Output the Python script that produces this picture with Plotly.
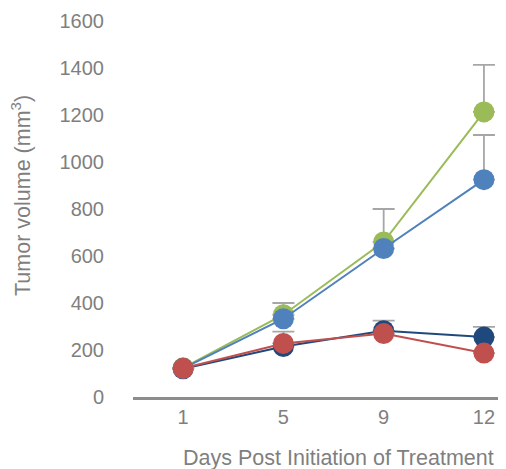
import plotly.graph_objects as go

days = ["1", "5", "9", "12"]
x_pos = [0, 1, 2, 3]

series_names = ["Dark blue", "Green", "Blue", "Red"]
dark_blue = [120, 215, 282, 255]
red = [122, 228, 270, 187]
green = [124, 350, 660, 1213]
blue = [122, 333, 632, 925]

dark_blue_err = [0, 0, 43, 43]
red_err = [0, 50, 0, 0]
green_err = [0, 50, 140, 200]
blue_err = [0, 0, 0, 190]

colors = {"Dark blue": "#1F497D", "Red": "#C0504D", "Green": "#9BBB59", "Blue": "#4F81BD"}
values = {"Dark blue": dark_blue, "Red": red, "Green": green, "Blue": blue}
errs = {"Dark blue": dark_blue_err, "Red": red_err, "Green": green_err, "Blue": blue_err}

fig = go.Figure()
for name in series_names:
    fig.add_trace(go.Scatter(
        x=x_pos, y=values[name], mode="lines+markers", name=name,
        line=dict(color=colors[name], width=2),
        marker=dict(color=colors[name], size=21),
        error_y=dict(type="data", array=errs[name], symmetric=False,
                     arrayminus=[0]*4, color="#A6A6A6", thickness=1.8, width=11),
        showlegend=False,
    ))

# page body has an 8px margin; compensate so the plot lands where the reference has it
OFF = 8
L, T, PW, PH = 133, 21, 373, 376

font_fam = "Liberation Sans, Arial, sans-serif"
fig.update_layout(
    width=506 - OFF, height=469 - OFF,
    margin=dict(l=L - OFF, r=0, t=T - OFF, b=469 - T - PH, autoexpand=False),
    paper_bgcolor="white", plot_bgcolor="white",
    font=dict(family=font_fam, color="#7F7F7F", size=20),
    xaxis=dict(
        range=[-0.5, 3.22], tickvals=x_pos, ticktext=days,
        showgrid=False, zeroline=False, showline=True,
        linecolor="#8C8C8C", linewidth=3, ticks="", ticklen=0,
        tickfont=dict(size=20, color="#7F7F7F"), automargin=False,
    ),
    yaxis=dict(
        range=[0, 1600], tickvals=[0, 200, 400, 600, 800, 1000, 1200, 1400, 1600],
        showgrid=False, zeroline=False, showline=False,
        ticks="outside", ticklen=24, tickcolor="rgba(0,0,0,0)",
        tickfont=dict(size=20, color="#7F7F7F"), automargin=False,
    ),
    annotations=[
        dict(text="Days Post Initiation of Treatment", xref="paper", yref="paper",
             x=(338 - L) / PW, y=-(458 - (T + PH)) / PH, xanchor="center", yanchor="middle",
             showarrow=False, font=dict(size=21.5, color="#7F7F7F")),
        dict(text="Tumor volume (mm<sup>3</sup>)", xref="paper", yref="paper",
             x=-(L - 21) / PW, y=((T + PH) - 196) / PH, xanchor="center", yanchor="middle",
             textangle=-90, showarrow=False, font=dict(size=21.5, color="#7F7F7F")),
    ],
)

fig.write_html("out.html")
